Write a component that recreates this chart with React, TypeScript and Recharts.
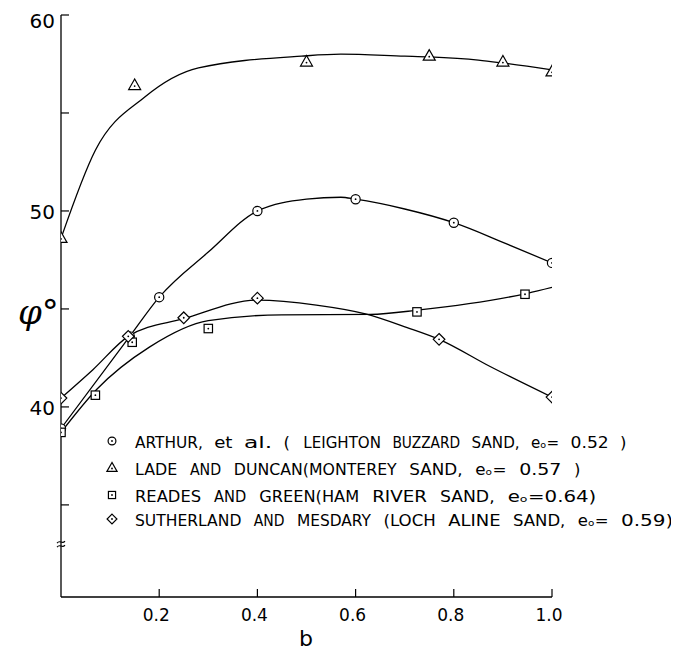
import React from 'react';
import { ComposedChart, Line, Scatter, XAxis, YAxis, Legend, ReferenceDot } from 'recharts';

// ---- data ----
const arthurB = [0, 0.14, 0.2, 0.4, 0.6, 0.8, 1.0];
const arthurPhi = [38.9, 43.6, 45.6, 50.0, 50.6, 49.4, 47.35];
const arthurCurveB = [0, 0.14, 0.2, 0.3, 0.4, 0.5, 0.57, 0.6, 0.7, 0.8, 0.9, 1.0];
const arthurCurvePhi = [38.9, 43.6, 45.6, 47.9, 50.0, 50.6, 50.7, 50.6, 50.1, 49.4, 48.4, 47.35];

const ladeB = [0, 0.15, 0.5, 0.75, 0.9, 1.0];
const ladePhi = [48.6, 56.4, 57.6, 57.9, 57.6, 57.1];
const ladeCurveB = [0, 0.07, 0.17, 0.28, 0.49, 0.57, 0.7, 0.75, 0.85, 0.9, 1.0];
const ladeCurvePhi = [48.6, 53.1, 55.8, 57.3, 57.9, 58.0, 57.9, 57.86, 57.7, 57.55, 57.2];

const readesB = [0, 0.07, 0.145, 0.3, 0.725, 0.945];
const readesPhi = [38.7, 40.6, 43.3, 44.0, 44.85, 45.75];
const readesCurveB = [0, 0.073, 0.18, 0.3, 0.45, 0.63, 0.73, 0.95, 1.0];
const readesCurvePhi = [38.7, 40.9, 43.05, 44.4, 44.7, 44.72, 44.95, 45.8, 46.1];

const sutherB = [0, 0.137, 0.25, 0.4, 0.77, 1.0];
const sutherPhi = [40.45, 43.6, 44.55, 45.55, 43.45, 40.5];
const sutherCurveB = [0, 0.065, 0.137, 0.25, 0.4, 0.52, 0.62, 0.705, 0.77, 0.875, 1.0];
const sutherCurvePhi = [40.45, 41.9, 43.6, 44.5, 45.45, 45.2, 44.75, 44.05, 43.45, 42.05, 40.5];

const xTicks = [0.2, 0.4, 0.6, 0.8, 1.0];
const yTicks = [35, 40, 45, 50, 55, 60];
const yLabelled = [40, 50, 60];
const breakAt = 33.0;

const legendLines = [
  'ARTHUR, et al. ( LEIGHTON BUZZARD SAND, e\u2092= 0.52 )',
  'LADE AND DUNCAN(MONTEREY SAND, e\u2092= 0.57 )',
  'READES AND GREEN(HAM RIVER SAND, e\u2092=0.64)',
  'SUTHERLAND AND MESDARY (LOCH ALINE SAND, e\u2092= 0.59)',
];
const legendShapes = ['circle', 'triangle', 'square', 'diamond'];

const zip = (xs: number[], ys: number[]) => xs.map((x, i) => ({ x, y: ys[i] }));

const FONT = '"DejaVu Sans", sans-serif';

function marker(kind: string, cx: number, cy: number, s = 1) {
  const common = { stroke: '#000', strokeWidth: 1.2, fill: '#fff' };
  let body: React.ReactNode = null;
  if (kind === 'circle') body = <circle cx={cx} cy={cy} r={4.6 * s} {...common} />;
  if (kind === 'triangle')
    body = (
      <polygon
        points={`${cx},${cy - 6.5 * s} ${cx - 6 * s},${cy + 4 * s} ${cx + 6 * s},${cy + 4 * s}`}
        {...common}
      />
    );
  if (kind === 'square')
    body = <rect x={cx - 4.2 * s} y={cy - 4.2 * s} width={8.4 * s} height={8.4 * s} {...common} />;
  if (kind === 'diamond')
    body = (
      <polygon
        points={`${cx},${cy - 5.8 * s} ${cx + 5.8 * s},${cy} ${cx},${cy + 5.8 * s} ${cx - 5.8 * s},${cy}`}
        {...common}
      />
    );
  return (
    <g>
      {body}
      <circle cx={cx} cy={kind === 'triangle' ? cy + 0.5 : cy} r={0.9} fill="#000" />
    </g>
  );
}

const shapeFor = (kind: string) => (props: any) => marker(kind, props.cx, props.cy);

const XTick = (props: any) => {
  const { x, y, payload } = props;
  const v = payload.value;
  return (
    <g>
      <line x1={x} y1={y} x2={x} y2={y - 8} stroke="#000" strokeWidth={1.2} />
      <text x={x - 3} y={y + 24} textAnchor="middle" fontFamily={FONT} fontSize={17} fill="#000">
        {v.toFixed(1)}
      </text>
    </g>
  );
};

const YTick = (props: any) => {
  const { x, y, payload } = props;
  const v = payload.value;
  return (
    <g>
      <line x1={x} y1={y} x2={x + 8} y2={y} stroke="#000" strokeWidth={1.2} />
      {yLabelled.includes(v) ? (
        <text x={x - 6} y={y + (v === 60 ? 13 : 8)} textAnchor="end" fontFamily={FONT} fontSize={20} fill="#000">
          {String(v)}
        </text>
      ) : null}
    </g>
  );
};

const legendLengths = [495, 450, 463, 540];
const legendRows = [16, 43, 70, 94];
const legendTextX = 45;

// split a legend line into words placed along the line by character index
function wordsOf(line: string, total: number) {
  const pitch = total / line.length;
  const out: { w: string; x: number; len: number }[] = [];
  let idx = 0;
  line.split(' ').forEach((w) => {
    out.push({ w, x: legendTextX + idx * pitch, len: w.length * pitch - 0.15 * pitch });
    idx += w.length + 1;
  });
  return out;
}

const renderLegend = () => (
  <svg width={590} height={110} style={{ overflow: 'visible' }}>
    {legendLines.map((line, i) => (
      <g key={line}>
        {marker(legendShapes[i], 22, legendRows[i], 0.85)}
        {wordsOf(line, legendLengths[i]).map((o, j) => (
          <text
            key={j}
            x={o.x}
            y={legendRows[i] + 6.5}
            fontFamily={FONT}
            fontSize={16.5}
            fill="#000"
            {...(o.w.length > 1 ? { textLength: o.len, lengthAdjust: 'spacingAndGlyphs' } : {})}
          >
            {o.w}
          </text>
        ))}
      </g>
    ))}
  </svg>
);

const BreakMark = (props: any) => {
  const { cx, cy } = props;
  return (
    <g>
      <path
        d={`M ${cx - 4} ${cy - 1} C ${cx - 1} ${cy - 5}, ${cx + 1} ${cy + 1}, ${cx + 4} ${cy - 3}`}
        stroke="#000"
        strokeWidth={1.1}
        fill="none"
      />
      <path
        d={`M ${cx - 4} ${cy + 3} C ${cx - 1} ${cy - 1}, ${cx + 1} ${cy + 5}, ${cx + 4} ${cy + 1}`}
        stroke="#000"
        strokeWidth={1.1}
        fill="none"
      />
    </g>
  );
};

const lineProps = {
  dataKey: 'y',
  type: 'monotone' as const,
  stroke: '#000',
  strokeWidth: 1.3,
  dot: false,
  activeDot: false,
  isAnimationActive: false,
};

export default function App() {
  return (
    <div style={{ width: 663, height: 643, position: 'relative', background: '#fff' }}>
      <ComposedChart width={663} height={643} margin={{ top: 7, right: 119, bottom: 24, left: 0 }}>
        <XAxis
          type="number"
          dataKey="x"
          domain={[0, 1]}
          ticks={xTicks}
          tick={XTick}
          tickLine={false}
          tickSize={0}
          tickMargin={0}
          height={30}
          allowDataOverflow
          axisLine={{ stroke: '#000', strokeWidth: 1.3 }}
        />
        <YAxis
          type="number"
          dataKey="y"
          domain={[30.3, 60]}
          ticks={yTicks}
          tick={YTick}
          tickLine={false}
          tickSize={0}
          tickMargin={0}
          width={53}
          allowDataOverflow
          interval={0}
          axisLine={{ stroke: '#000', strokeWidth: 1.3 }}
        />
        <Line {...lineProps} data={zip(ladeCurveB, ladeCurvePhi)} name="lade-fit" />
        <Line {...lineProps} data={zip(arthurCurveB, arthurCurvePhi)} name="arthur-fit" />
        <Line {...lineProps} data={zip(readesCurveB, readesCurvePhi)} name="reades-fit" />
        <Line {...lineProps} data={zip(sutherCurveB, sutherCurvePhi)} name="suther-fit" />
        <Scatter data={zip(ladeB, ladePhi)} dataKey="y" shape={shapeFor('triangle')} isAnimationActive={false} />
        <Scatter data={zip(arthurB, arthurPhi)} dataKey="y" shape={shapeFor('circle')} isAnimationActive={false} />
        <Scatter data={zip(readesB, readesPhi)} dataKey="y" shape={shapeFor('square')} isAnimationActive={false} />
        <Scatter data={zip(sutherB, sutherPhi)} dataKey="y" shape={shapeFor('diamond')} isAnimationActive={false} />
        <ReferenceDot x={0} y={breakAt} shape={BreakMark} ifOverflow="visible" />
        <Legend
          content={renderLegend}
          layout="vertical"
          align="center"
          verticalAlign="middle"
          wrapperStyle={{ left: 82, top: 417, width: 580, height: 110 }}
        />
        <text x={10} y={316} fontFamily='"DejaVu Serif", serif' fontStyle="italic" fontSize={34} fill="#000">
          φ°
        </text>
        <text x={291} y={638} fontFamily={FONT} fontSize={22} fill="#000">
          b
        </text>
      </ComposedChart>
    </div>
  );
}
